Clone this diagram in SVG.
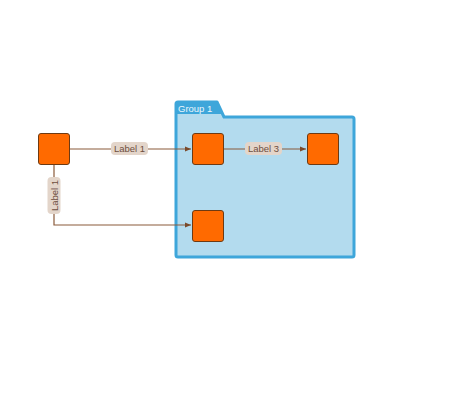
<svg xmlns="http://www.w3.org/2000/svg" width="460" height="400" viewBox="0 0 460 400">
<defs>
<marker id="arr" viewBox="0 0 6 6" refX="6" refY="3" markerWidth="6" markerHeight="6" markerUnits="userSpaceOnUse" orient="auto">
<path d="M0,0.5 L6,3 L0,5.5 z" fill="#7a4a2a"/>
</marker>
</defs>
<style>
.node{fill:#ff6a00;stroke:#6e3a12;stroke-width:1}
.edge{fill:none;stroke:#8a5a3a;stroke-width:1.2;marker-end:url(#arr)}
.pill{fill:#e3d5ca;stroke:none}
.lbl{font-family:"Liberation Sans",Arial,sans-serif;font-size:9.5px;fill:#6e4e3e;text-anchor:middle;dominant-baseline:central}
.grp{fill:#b3dbee;stroke:#3ea6da;stroke-width:3;stroke-linejoin:round}
.gl{font-family:"Liberation Sans",Arial,sans-serif;font-size:9.5px;fill:#eaf6fc}
</style>
<g id="group1">
<path class="grp" d="M176,117 L176,104 Q176,102 178,102 L217,102 L224,117 L352,117 Q354,117 354,119 L354,255 Q354,257 352,257 L178,257 Q176,257 176,255 Z"/>
<path d="M177,103 L217,103 L222,114 L177,114 Z" fill="#3ea6da"/>
<text class="gl" x="178" y="112">Group 1</text>
</g>
<g id="connectors">
<path class="edge" d="M70,149 L191,149"/>
<path class="edge" d="M54,164 L54,225 L191,225"/>
<path class="edge" d="M223,149 L306,149"/>
<rect class="pill" x="111" y="142" width="37" height="13" rx="4"/>
<text class="lbl" x="129.5" y="148.5">Label 1</text>
<rect class="pill" x="47.5" y="177" width="13" height="37" rx="4"/>
<text class="lbl" transform="translate(54,195.5) rotate(-90)" x="0" y="0">Label 1</text>
<rect class="pill" x="245" y="142" width="37" height="13" rx="4"/>
<text class="lbl" x="263.5" y="148.5">Label 3</text>
</g>
<g id="n1"><rect class="node" x="38.5" y="133.5" width="31" height="31" rx="2.5"/></g>
<g id="n2"><rect class="node" x="192.5" y="133.5" width="31" height="31" rx="2.5"/></g>
<g id="n3"><rect class="node" x="307.5" y="133.5" width="31" height="31" rx="2.5"/></g>
<g id="n4"><rect class="node" x="192.5" y="210.5" width="31" height="31" rx="2.5"/></g>
</svg>
